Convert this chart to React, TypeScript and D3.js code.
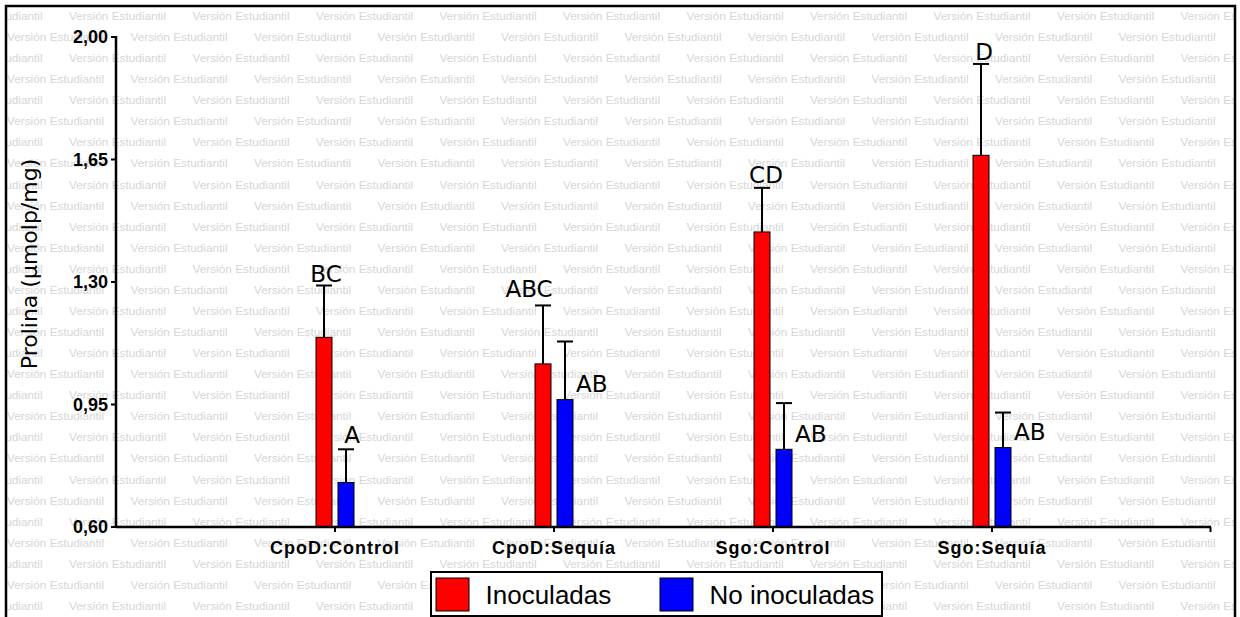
import React from "react";
import * as d3 from "d3";

// ---- data ----
const categories = ["CpoD:Control", "CpoD:Sequía", "Sgo:Control", "Sgo:Sequía"];
const seriesNames = ["Inoculadas", "No inoculadas"];
const seriesColors = ["#ff0000", "#0000ff"];
const inoculadasMean = [1.142, 1.066, 1.443, 1.662];
const inoculadasErr = [0.148, 0.167, 0.126, 0.261];
const noInoculadasMean = [0.727, 0.964, 0.822, 0.827];
const noInoculadasErr = [0.095, 0.166, 0.132, 0.1];
const inoculadasLetters = ["BC", "ABC", "CD", "D"];
const noInoculadasLetters = ["A", "AB", "AB", "AB"];
const yTicks = [0.6, 0.95, 1.3, 1.65, 2.0];
const yLabel = "Prolina (µmolp/mg)";
const watermark = "Versión Estudiantil";

// ---- layout / style ----
const W = 1240;
const H = 617;
const axisX = 116;
const axisY = 527;
const topY = 37;
const rightX = 1211;
// label nudges (style only)
const redNudge = [
  { dx: 2, dy: -4 },
  { dx: -14, dy: -8 },
  { dx: 4, dy: -4.5 },
  { dx: 3, dy: -4 },
];

export default function App() {
  const y = d3.scaleLinear().domain([0.6, 2.0]).range([axisY, topY]);
  const x = d3.scalePoint<string>().domain(categories).range([axisX, rightX]).padding(1);
  const sub = d3
    .scaleBand<string>()
    .domain(seriesNames)
    .range([-19, 19])
    .paddingInner(6 / 22)
    .paddingOuter(0);
  const bw = sub.bandwidth();
  const fmt = (v: number) => d3.format(".2f")(v).replace(".", ",");

  const series = [
    { name: seriesNames[0], mean: inoculadasMean, err: inoculadasErr, letters: inoculadasLetters, color: seriesColors[0] },
    { name: seriesNames[1], mean: noInoculadasMean, err: noInoculadasErr, letters: noInoculadasLetters, color: seriesColors[1] },
  ];

  // watermark rows
  const rowStep = 21.07;
  const colStep = 123.5;
  const rows = d3.range(0, 30);
  const cols = d3.range(-1, 11);

  return (
    <svg
      width={W}
      height={H}
      style={{ position: "absolute", left: 0, top: 0, background: "#fff" }}
      xmlns="http://www.w3.org/2000/svg"
    >
      <defs>
        <clipPath id="frameClip">
          <rect x={7} y={7} width={1228} height={620} />
        </clipPath>
      </defs>
      <rect x={0} y={0} width={W} height={H} fill="#fff" />
      <g clipPath="url(#frameClip)" fill="#d6d6d6" fontFamily="'Liberation Sans', Arial, sans-serif" fontSize={11.8}>
        {rows.map((r) =>
          cols.map((c) => (
            <text key={`${r}-${c}`} x={(r % 2 === 0 ? -54.5 : 7) + c * colStep} y={20 + r * rowStep}>
              {watermark}
            </text>
          ))
        )}
      </g>
      {/* frame */}
      <rect x={6} y={6} width={1229} height={640} fill="none" stroke="#000" strokeWidth={2.5} />

      {/* bars */}
      {series.map((s) =>
        categories.map((cat, i) => {
          const cx = (x(cat) as number) + (sub(s.name) as number);
          const top = y(s.mean[i]);
          return (
            <rect
              key={`${s.name}-${cat}`}
              x={cx}
              y={top}
              width={bw}
              height={axisY - top}
              fill={s.color}
              stroke="#000"
              strokeWidth={1}
            />
          );
        })
      )}
      {/* error bars */}
      {series.map((s) =>
        categories.map((cat, i) => {
          const cx = (x(cat) as number) + (sub(s.name) as number) + bw / 2;
          const top = y(s.mean[i]);
          const et = y(s.mean[i] + s.err[i]);
          return (
            <g key={`e-${s.name}-${cat}`} stroke="#000" strokeWidth={2}>
              <line x1={cx} x2={cx} y1={top} y2={et} />
              <line x1={cx - bw / 2} x2={cx + bw / 2} y1={et} y2={et} />
            </g>
          );
        })
      )}
      {/* letters */}
      <g fontFamily="'DejaVu Sans', Verdana, sans-serif" fontSize={23} fill="#000">
        {categories.map((cat, i) => {
          const cx = (x(cat) as number) + (sub(seriesNames[0]) as number) + bw / 2;
          const et = y(inoculadasMean[i] + inoculadasErr[i]);
          return (
            <text key={`lr-${i}`} x={cx + redNudge[i].dx} y={et + redNudge[i].dy} textAnchor="middle">
              {inoculadasLetters[i]}
            </text>
          );
        })}
        {categories.map((cat, i) => {
          const cx = (x(cat) as number) + (sub(seriesNames[1]) as number) + bw / 2;
          const et = y(noInoculadasMean[i] + noInoculadasErr[i]);
          const top = y(noInoculadasMean[i]);
          if (i === 0) {
            return (
              <text key={`lb-${i}`} x={cx + 6} y={et - 6.5} textAnchor="middle">
                {noInoculadasLetters[i]}
              </text>
            );
          }
          return (
            <text key={`lb-${i}`} x={cx + 11} y={top - 7.5} textAnchor="start">
              {noInoculadasLetters[i]}
            </text>
          );
        })}
      </g>

      {/* axes */}
      <g stroke="#000" strokeWidth={2.5} fill="none">
        <line x1={axisX} x2={axisX} y1={topY - 1} y2={axisY + 1} />
        <line x1={axisX} x2={rightX} y1={axisY} y2={axisY} />
        <line x1={rightX - 0.5} x2={rightX - 0.5} y1={axisY} y2={axisY + 5} strokeWidth={2} />
        {yTicks.map((t) => (
          <line key={`yt-${t}`} x1={axisX - 5} x2={axisX} y1={y(t)} y2={y(t)} strokeWidth={2} />
        ))}
        {categories.map((c) => (
          <line key={`xt-${c}`} x1={x(c) as number} x2={x(c) as number} y1={axisY} y2={axisY + 5} strokeWidth={2} />
        ))}
      </g>
      <g fontFamily="'Liberation Sans', Arial, sans-serif" fontWeight="bold" fontSize={18} fill="#000">
        {yTicks.map((t) => (
          <text key={`yl-${t}`} x={axisX - 8} y={y(t) + 6.3} textAnchor="end">
            {fmt(t)}
          </text>
        ))}
        {categories.map((c) => (
          <text key={`xl-${c}`} x={x(c) as number} y={554} textAnchor="middle" letterSpacing={1}>
            {c}
          </text>
        ))}
      </g>
      <text
        transform={`translate(37, 264) rotate(-90)`}
        textAnchor="middle"
        fontFamily="'DejaVu Sans', Verdana, sans-serif"
        fontSize={22}
        fill="#000"
      >
        {yLabel}
      </text>

      {/* legend */}
      <g>
        <rect x={431} y={572} width={451} height={44} fill="#fff" stroke="#000" strokeWidth={2} />
        {seriesNames.map((n, i) => {
          const sx = i === 0 ? 436 : 660;
          return (
            <g key={`lg-${n}`}>
              <rect x={sx} y={578} width={33} height={33} fill={seriesColors[i]} stroke="#000" strokeWidth={1} />
              <text
                x={sx + 49.5}
                y={603.5}
                fontFamily="'Liberation Sans', Arial, sans-serif"
                fontSize={26}
                fill="#000"
              >
                {n}
              </text>
            </g>
          );
        })}
      </g>
    </svg>
  );
}
